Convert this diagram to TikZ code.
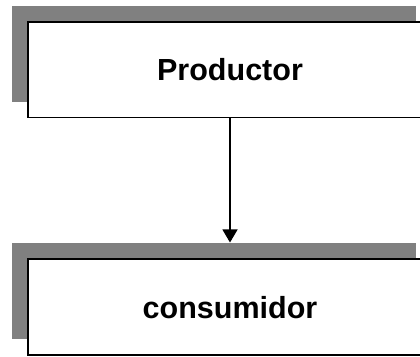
\documentclass[tikz,border=0pt]{standalone}
\usepackage{fontspec}
\setmainfont{Liberation Sans}
\usetikzlibrary{shadows,arrows.meta}
\begin{document}
\begin{tikzpicture}[x=1pt,y=1pt,
  boxnode/.style={draw=black, line width=1.6pt, fill=white, rectangle,
    minimum width=404pt, minimum height=95.7pt, inner sep=0pt,
    font=\fontsize{30.5}{36}\selectfont\bfseries,
    general shadow={fill=black!50, shadow xshift=-16pt, shadow yshift=16pt}},
  conn/.style={line width=1.2pt, -{Triangle[width=15pt,length=13pt]}}]
\useasboundingbox (0,0) rectangle (420,356);
\node[boxnode] (p) at (230,286.15) {Productor};
\node[boxnode] (c) at (230,48.85) {consumidor};
\draw[conn] (p.south) -- ([yshift=16pt]c.north);
\end{tikzpicture}
\end{document}
